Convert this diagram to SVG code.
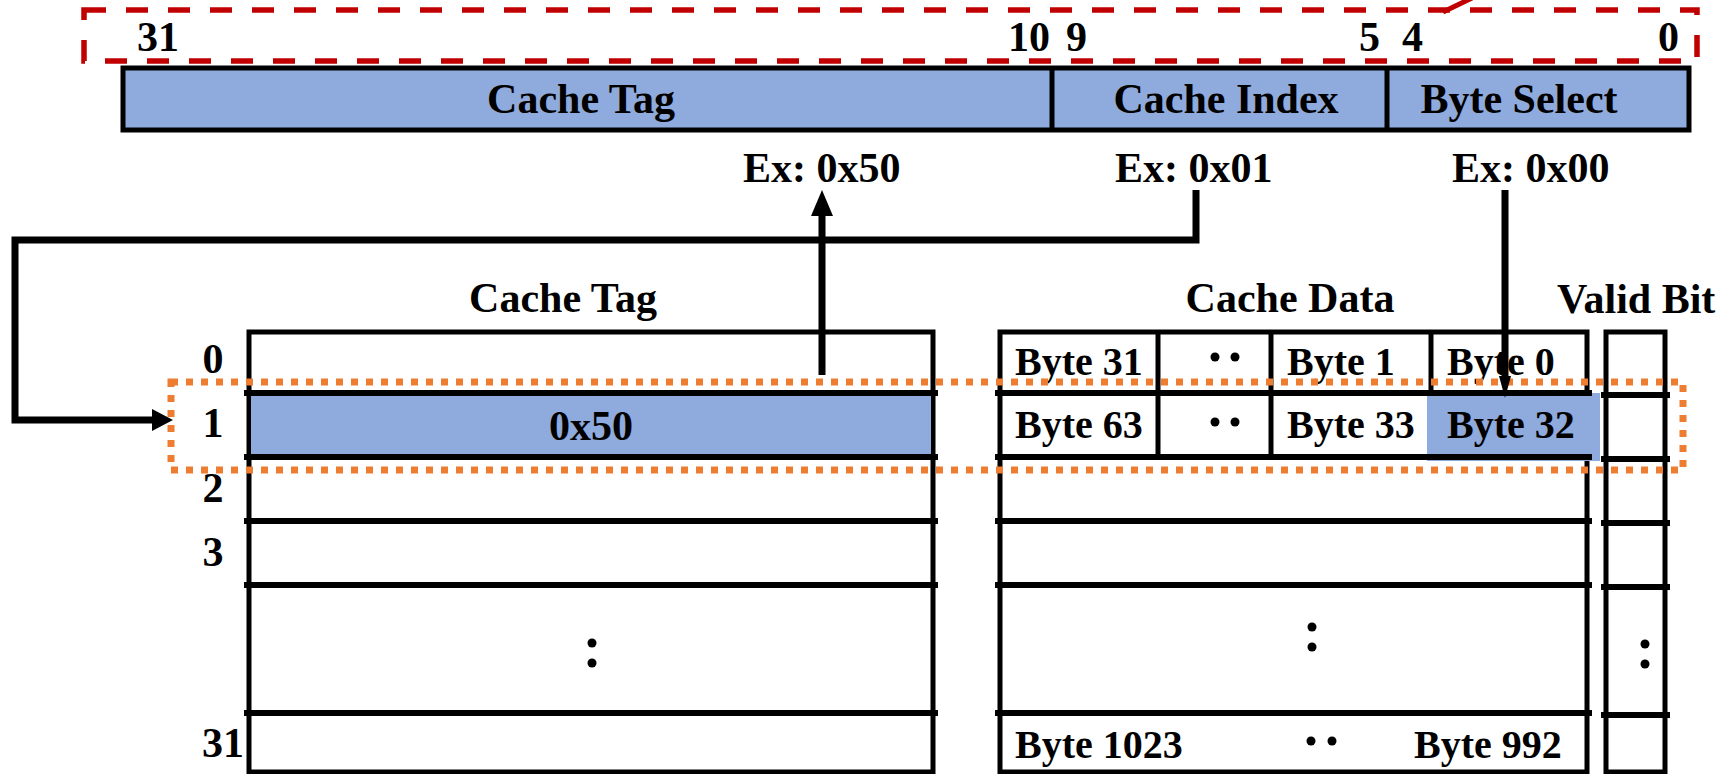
<svg xmlns="http://www.w3.org/2000/svg" width="1721" height="774" viewBox="0 0 1721 774">
<style>
text{font-family:"Liberation Serif","Times New Roman",serif;font-weight:bold;fill:#000}
.t42{font-size:42px}
.t40{font-size:40px}
.mid{text-anchor:middle}
.box{fill:#fff;stroke:#000;stroke-width:5}
.blue{fill:#8FAADC}
.row{stroke:#000;stroke-width:6}
.div{stroke:#000;stroke-width:5}
.conn{fill:none;stroke:#000;stroke-width:7}
.dot{fill:#000}
</style>
<rect width="1721" height="774" fill="#fff"/>

<g id="address-field">
<rect x="84" y="10" width="1613" height="51" fill="none" stroke="#C00000" stroke-width="5.5" stroke-dasharray="22 20"/>
<line x1="1443" y1="12" x2="1472" y2="-2" stroke="#C00000" stroke-width="5"/>
<text class="t42" x="137" y="51">31</text>
<text class="t42" x="1008" y="51">10</text>
<text class="t42" x="1066" y="51">9</text>
<text class="t42" x="1359" y="51">5</text>
<text class="t42" x="1402" y="51">4</text>
<text class="t42" x="1658" y="51">0</text>
</g>

<g id="address-bar">
<rect x="123" y="68" width="1566" height="62" fill="#8FAADC" stroke="#000" stroke-width="5"/>
<line class="div" x1="1052" y1="68" x2="1052" y2="130"/>
<line class="div" x1="1387" y1="68" x2="1387" y2="130"/>
<text class="t42 mid" x="581" y="113">Cache Tag</text>
<text class="t42 mid" x="1226" y="113">Cache Index</text>
<text class="t42 mid" x="1519" y="113">Byte Select</text>
</g>

<g id="examples">
<text class="t42" x="743" y="182">Ex: 0x50</text>
<text class="t42" x="1115" y="182">Ex: 0x01</text>
<text class="t42" x="1452" y="182">Ex: 0x00</text>
</g>

<g id="tag-table">
<text class="t42 mid" x="563" y="312">Cache Tag</text>
<rect class="box" x="249" y="332" width="684" height="440"/>
<rect class="blue" x="251" y="393" width="680" height="64"/>
<line class="row" x1="244" y1="393" x2="938" y2="393"/>
<line class="row" x1="244" y1="457" x2="938" y2="457"/>
<line class="row" x1="244" y1="521" x2="938" y2="521"/>
<line class="row" x1="244" y1="585" x2="938" y2="585"/>
<line class="row" x1="244" y1="713" x2="938" y2="713"/>
<text class="t42 mid" x="591" y="440">0x50</text>
<circle class="dot" cx="592" cy="643" r="4.5"/>
<circle class="dot" cx="592" cy="663" r="4.5"/>
</g>

<g id="row-labels">
<text class="t42 mid" x="213" y="373">0</text>
<text class="t42 mid" x="213" y="437">1</text>
<text class="t42 mid" x="213" y="502">2</text>
<text class="t42 mid" x="213" y="566">3</text>
<text class="t42 mid" x="223" y="757">31</text>
</g>

<g id="data-table">
<text class="t42 mid" x="1290" y="312">Cache Data</text>
<rect class="box" x="1000" y="332" width="587" height="440"/>
<line class="div" x1="1158" y1="332" x2="1158" y2="457"/>
<line class="div" x1="1271" y1="332" x2="1271" y2="457"/>
<line class="div" x1="1431" y1="332" x2="1431" y2="457"/>
<rect class="blue" x="1427" y="393" width="173" height="68"/>
<line class="row" x1="995" y1="393" x2="1592" y2="393"/>
<line class="row" x1="995" y1="457" x2="1592" y2="457"/>
<line class="row" x1="995" y1="521" x2="1592" y2="521"/>
<line class="row" x1="995" y1="585" x2="1592" y2="585"/>
<line class="row" x1="995" y1="713" x2="1592" y2="713"/>
<text class="t40" x="1015" y="375">Byte 31</text>
<text class="t40" x="1287" y="375">Byte 1</text>
<text class="t40" x="1447" y="375">Byte 0</text>
<text class="t40" x="1015" y="438">Byte 63</text>
<text class="t40" x="1287" y="438">Byte 33</text>
<text class="t40" x="1447" y="438">Byte 32</text>
<text class="t40" x="1015" y="758">Byte 1023</text>
<text class="t40" x="1414" y="758">Byte 992</text>
<circle class="dot" cx="1215" cy="357" r="4.5"/>
<circle class="dot" cx="1235" cy="357" r="4.5"/>
<circle class="dot" cx="1215" cy="422" r="4.5"/>
<circle class="dot" cx="1235" cy="422" r="4.5"/>
<circle class="dot" cx="1311" cy="741" r="4.5"/>
<circle class="dot" cx="1332" cy="741" r="4.5"/>
<circle class="dot" cx="1312" cy="627" r="4.5"/>
<circle class="dot" cx="1312" cy="647" r="4.5"/>
</g>

<g id="valid-column">
<text class="t42" x="1557" y="313">Valid Bit</text>
<rect class="box" x="1606" y="332" width="59" height="440"/>
<line class="row" x1="1601" y1="395" x2="1670" y2="395"/>
<line class="row" x1="1601" y1="459" x2="1670" y2="459"/>
<line class="row" x1="1601" y1="523" x2="1670" y2="523"/>
<line class="row" x1="1601" y1="587" x2="1670" y2="587"/>
<line class="row" x1="1601" y1="715" x2="1670" y2="715"/>
<circle class="dot" cx="1645" cy="644" r="4.5"/>
<circle class="dot" cx="1645" cy="664" r="4.5"/>
</g>

<g id="selected-line">
<rect x="171" y="382" width="1512" height="88" fill="none" stroke="#ED7D31" stroke-width="7" stroke-dasharray="7 8"/>
</g>

<g id="connectors">
<path class="conn" d="M1196,190 V240 H15 V420 H156"/>
<polygon points="173,420 152,409 152,431" fill="#000"/>
<line class="conn" x1="822" y1="375" x2="822" y2="212"/>
<polygon points="822,190 811,216 833,216" fill="#000"/>
<line class="conn" x1="1505" y1="190" x2="1505" y2="380"/>
<polygon points="1499,376 1511,376 1505,398" fill="#000"/>
</g>
</svg>
